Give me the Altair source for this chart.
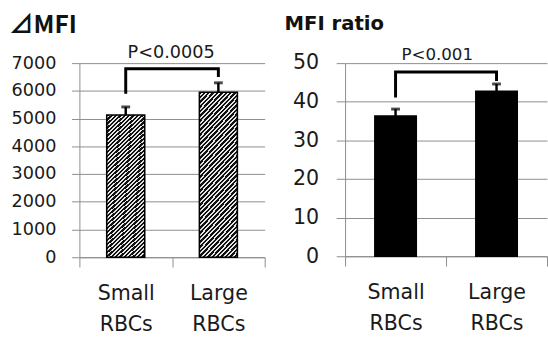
import altair as alt
import pandas as pd

categories = ["Small RBCs", "Large RBCs"]

mfi_mean = [5130, 5950]
mfi_err = [290, 340]
ratio_mean = [36.3, 42.7]
ratio_err = [1.8, 1.9]

mfi_bracket = [5900, 6800, 6800, 6500]
ratio_bracket = [41.1, 47.7, 47.7, 45.4]
bracket_cats = ["Small RBCs", "Small RBCs", "Large RBCs", "Large RBCs"]

mfi_p = ("P<0.0005", 7170)
ratio_p = ("P<0.001", 50.9)

mfi_ticks = [0, 1000, 2000, 3000, 4000, 5000, 6000, 7000]
ratio_ticks = [0, 10, 20, 30, 40, 50]

FONT = "DejaVu Sans"
GRAY = "#8c8c8c"


def hatch(n=44, dark=0.55, s=0.245):
    k = (s + 1) / (s * s + 1)
    stops = []
    for i in range(n):
        a = i / n
        b = (i + dark) / n
        c = (i + 1) / n
        stops += [
            {"offset": a, "color": "#111111"},
            {"offset": b, "color": "#111111"},
            {"offset": b, "color": "#e6e6e6"},
            {"offset": c, "color": "#e6e6e6"},
        ]
    return {"gradient": "linear", "x1": 0, "y1": 0, "x2": s * k, "y2": k, "stops": stops}


def panel(means, errs, bracket, ptxt, ticks, fill, title, title_font, title_size,
          title_dx, title_off, tick_font, tick_size, tick_pad, p_font, p_dx,
          width, height):
    df = pd.DataFrame({"cat": categories, "mean": means, "err": errs})
    bdf = pd.DataFrame({"cat": bracket_cats, "val": bracket, "ord": [0, 1, 2, 3]})
    pdf = pd.DataFrame({"cat": [categories[0]], "y": [ptxt[1]], "label": [ptxt[0]]})

    xscale = alt.Scale(domain=categories, paddingInner=0, paddingOuter=0)
    xaxis = alt.Axis(
        title=None, tickBand="extent", tickSize=10, grid=False, labelAngle=0,
        labelFontSize=21, labelLineHeight=32, labelPadding=16,
        labelExpr="split(datum.label, ' ')", labelFont=FONT,
    )
    yscale = alt.Scale(domain=[0, ticks[-1]], nice=False, zero=True)
    yaxis = alt.Axis(
        title=None, values=ticks, format="d", tickSize=tick_size, labelPadding=tick_pad,
        grid=True, labelFontSize=tick_font, labelFont=FONT,
    )

    def X(field="cat", **kw):
        return alt.X(f"{field}:N", scale=xscale, axis=xaxis, sort=categories, **kw)

    def Y(field):
        return alt.Y(f"{field}:Q", scale=yscale, axis=yaxis)

    base = alt.Chart(df).transform_calculate(upper="datum.mean + datum.err")
    bars = base.mark_bar(
        width=alt.RelativeBandSize(0.41), fill=fill, stroke="black", strokeWidth=1.6
    ).encode(x=X(), y=Y("mean"))
    err = base.mark_rule(color="black", strokeWidth=2.5).encode(
        x=X(), y=Y("mean"), y2="upper:Q"
    )
    cap = base.mark_tick(color="black", thickness=3, size=9, orient="horizontal").encode(
        x=X(), y=Y("upper")
    )
    br = alt.Chart(bdf).mark_line(
        color="black", strokeWidth=3, strokeJoin="miter", strokeCap="butt"
    ).encode(x=X(), y=Y("val"), order="ord:Q")
    ptext = alt.Chart(pdf).mark_text(
        font=FONT, fontSize=p_font, baseline="alphabetic", align="center",
        dx=p_dx, color="#1a1a1a",
    ).encode(x=X(bandPosition=1), y=Y("y"), text="label:N")

    return alt.layer(bars, err, cap, br, ptext).properties(
        width=width, height=height,
        title=alt.TitleParams(
            text=title, anchor="start", frame="bounds", font=title_font,
            fontSize=title_size, fontWeight="bold", color="#111111", offset=title_off,
            dx=title_dx,
        ),
    )


left = panel(mfi_mean, mfi_err, mfi_bracket, mfi_p, mfi_ticks, hatch(), "⊿MFI",
             "Noto Sans CJK JP", 25, -2, 7, 18, 8, 16, 18, -1, 189, 198)
right = panel(ratio_mean, ratio_err, ratio_bracket, ratio_p, ratio_ticks, "#000000",
              "MFI ratio", "DejaVu Sans", 20, -8, 12, 21, 9, 18, 17, -9, 206, 197)

chart = alt.hconcat(left, right, spacing=19).properties(
    padding={"left": 9, "top": 10, "right": 0, "bottom": 0}
).configure_view(stroke=None).configure_axis(
    gridColor=GRAY, domainColor=GRAY, tickColor=GRAY, labelColor="#1a1a1a",
    gridWidth=1, domainWidth=1, tickWidth=1,
)

chart.save("out.html", embed_options={"renderer": "svg", "actions": False})
